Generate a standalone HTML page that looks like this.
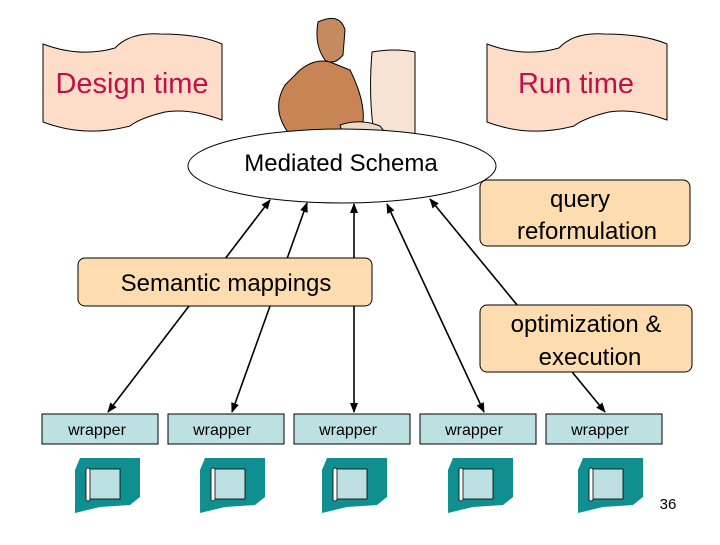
<!DOCTYPE html>
<html><head><style>
body{margin:0;background:#fff;}
svg text{font-family:"Liberation Sans",sans-serif;}
</style></head><body>
<svg width="720" height="540" viewBox="0 0 720 540" xmlns="http://www.w3.org/2000/svg">
<defs>
<marker id="a" markerWidth="10" markerHeight="10" refX="9" refY="5" orient="auto-start-reverse" markerUnits="userSpaceOnUse">
<path d="M0,1 L10,5 L0,9 z" fill="#000"/></marker>
<g id="ic">
<path d="M5,0 L65,0 L65,39 L55,47 L25,49 L0,55 L0,12 Z" fill="#0f8f8f"/>
<rect x="13" y="11" width="32" height="30" fill="#bde0e3" stroke="#000" stroke-width="0.8"/>
<rect x="11" y="10" width="4" height="33" rx="2" fill="#fff" stroke="#000" stroke-width="0.8"/>
</g>
</defs>
<!-- banners -->
<path d="M43,44 Q80,58 115,48 Q130,32 160,34 Q200,34 222,44 L222,120 Q190,108 165,112 Q140,118 130,126 Q85,138 43,122 Z" fill="#fddcc8" stroke="#000" stroke-width="1"/>
<text x="132" y="93" font-size="29" fill="#c0104a" text-anchor="middle">Design time</text>
<path d="M487,44 Q524,58 559,48 Q574,32 604,34 Q644,34 667,44 L667,120 Q634,108 609,112 Q584,118 574,126 Q529,138 487,122 Z" fill="#fddcc8" stroke="#000" stroke-width="1"/>
<text x="576" y="93" font-size="29" fill="#c0104a" text-anchor="middle">Run time</text>
<!-- person clipart -->
<path d="M318,22 Q340,12 345,30 L343,55 Q334,66 325,60 Q314,45 318,22 Z" fill="#c58a60" stroke="#000"/>
<path d="M300,70 Q315,58 330,62 L350,70 Q370,110 360,135 L290,135 Q270,110 285,85 Z" fill="#c98456" stroke="#000"/>
<path d="M372,52 Q395,48 415,52 L415,135 L375,140 Q368,100 372,52 Z" fill="#f6e3d2" stroke="#000"/>
<path d="M340,125 Q360,118 380,126 L395,145 L345,140 Z" fill="#efd9c4" stroke="#000"/>
<!-- arrows -->
<g stroke="#000" stroke-width="1.6" fill="none" marker-start="url(#a)" marker-end="url(#a)">
<line x1="270" y1="200" x2="108" y2="412"/>
<line x1="307" y1="203" x2="232" y2="412"/>
<line x1="354" y1="204" x2="354" y2="412"/>
<line x1="387" y1="204" x2="484" y2="412"/>
<line x1="430" y1="199" x2="605" y2="412"/>
</g>
<!-- ellipse -->
<ellipse cx="342" cy="166" rx="154" ry="37" fill="#fff" stroke="#000"/>
<text x="341" y="171" font-size="24" text-anchor="middle">Mediated Schema</text>
<!-- boxes -->
<rect x="480" y="180" width="210" height="66" rx="7" fill="#fddcb0" stroke="#000"/>
<text x="580" y="207" font-size="24" text-anchor="middle">query</text>
<text x="587" y="239" font-size="24" text-anchor="middle">reformulation</text>
<rect x="78" y="258" width="294" height="48" rx="7" fill="#fddcb0" stroke="#000"/>
<text x="226" y="291" font-size="24" text-anchor="middle">Semantic mappings</text>
<rect x="480" y="305" width="212" height="67" rx="7" fill="#fddcb0" stroke="#000"/>
<text x="586" y="332" font-size="24" text-anchor="middle">optimization &amp;</text>
<text x="590" y="365" font-size="24" text-anchor="middle">execution</text>
<!-- wrappers -->
<g font-size="16" text-anchor="middle">
<rect x="42" y="414" width="116" height="30" fill="#bde0e3" stroke="#000"/><text x="97" y="435">wrapper</text>
<rect x="168" y="414" width="116" height="30" fill="#bde0e3" stroke="#000"/><text x="222" y="435">wrapper</text>
<rect x="294" y="414" width="116" height="30" fill="#bde0e3" stroke="#000"/><text x="348" y="435">wrapper</text>
<rect x="420" y="414" width="116" height="30" fill="#bde0e3" stroke="#000"/><text x="474" y="435">wrapper</text>
<rect x="546" y="414" width="116" height="30" fill="#bde0e3" stroke="#000"/><text x="600" y="435">wrapper</text>
</g>
<!-- icons -->
<use href="#ic" transform="translate(75,458)"/>
<use href="#ic" transform="translate(200,458)"/>
<use href="#ic" transform="translate(322,458)"/>
<use href="#ic" transform="translate(448,458)"/>
<use href="#ic" transform="translate(578,458)"/>
<text x="668" y="509" font-size="15" text-anchor="middle">36</text>
</svg>
</body></html>
